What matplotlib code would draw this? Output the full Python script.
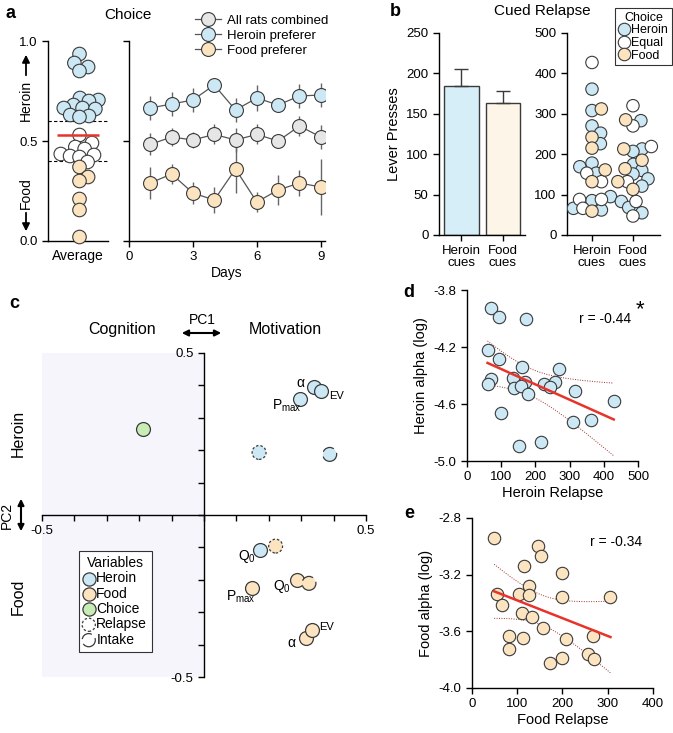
import numpy as np
import matplotlib
matplotlib.use("Agg")
import matplotlib.pyplot as plt
from matplotlib.lines import Line2D

plt.rcParams["font.family"] = ["Liberation Sans", "DejaVu Sans"]
plt.rcParams["font.size"] = 8.5
plt.rcParams["axes.linewidth"] = 1.0
plt.rcParams["xtick.major.width"] = 1.0
plt.rcParams["ytick.major.width"] = 1.0
plt.rcParams["xtick.major.size"] = 4
plt.rcParams["ytick.major.size"] = 4

# ---- data ----
# a: average choice per rat
choice_heroin = [0.935, 0.89, 0.87, 0.85, 0.715, 0.705, 0.70, 0.68, 0.665, 0.665,
                 0.66, 0.63, 0.625, 0.62]
choice_equal = [0.53, 0.49, 0.47, 0.46, 0.435, 0.43, 0.425, 0.42, 0.395]
choice_food = [0.37, 0.32, 0.30, 0.21, 0.155, 0.02]

days = [1, 2, 3, 4, 5, 6, 7, 8, 9]
all_mean = [0.483, 0.52, 0.505, 0.533, 0.505, 0.533, 0.50, 0.575, 0.52]
all_err = [0.055, 0.045, 0.04, 0.05, 0.06, 0.05, 0.03, 0.05, 0.06]
heroin_mean = [0.665, 0.685, 0.705, 0.78, 0.655, 0.715, 0.68, 0.725, 0.73]
heroin_err = [0.058, 0.058, 0.06, 0.035, 0.06, 0.065, 0.03, 0.06, 0.06]
food_mean = [0.29, 0.335, 0.24, 0.205, 0.36, 0.195, 0.255, 0.29, 0.27]
food_err = [0.08, 0.05, 0.055, 0.065, 0.12, 0.05, 0.075, 0.065, 0.14]

# b: cued relapse
cue_labels = ["Heroin\ncues", "Food\ncues"]
relapse_mean = [185, 163]
relapse_sem = [20, 15]
hc_heroin = [361, 308, 270, 252, 226, 178, 169, 153, 95, 85, 66, 62]
hc_equal = [427, 153, 132, 88, 88, 66]
hc_food = [312, 242, 215, 161, 132, 59]
fc_heroin = [283, 213, 207, 175, 160, 151, 139, 121, 83, 68, 55]
fc_equal = [320, 270, 219, 132, 83, 47]
fc_food = [285, 213, 185, 164, 132, 113]

# c: PCA loadings (PC1, PC2)
pc_heroin = {"alpha": (0.34, 0.396), "EV": (0.362, 0.384), "Pmax": (0.295, 0.358),
             "Q0": (0.172, -0.108)}
pc_heroin_relapse = (0.17, 0.193)
pc_heroin_intake = (0.388, 0.187)
pc_food = {"alpha": (0.314, -0.381), "EV": (0.332, -0.355), "Pmax": (0.148, -0.226),
           "Q0": (0.288, -0.20)}
pc_food_relapse = (0.221, -0.096)
pc_food_intake = (0.324, -0.211)
pc_choice = (-0.188, 0.265)

# d: heroin relapse vs heroin alpha
d_x = [69, 93, 172, 62, 93, 160, 270, 69, 60, 135, 170, 138, 158, 179, 226, 256,
       243, 315, 429, 98, 310, 364, 153, 216]
d_y = [-3.924, -3.987, -4.004, -4.221, -4.284, -4.338, -4.352, -4.427, -4.462,
       -4.42, -4.448, -4.49, -4.474, -4.53, -4.46, -4.448, -4.483, -4.509, -4.577,
       -4.666, -4.728, -4.712, -4.893, -4.869]
# e: food relapse vs food alpha
e_x = [49, 145, 153, 116, 200, 127, 56, 104, 126, 200, 306, 67, 110, 132, 156, 81,
       112, 208, 268, 81, 200, 172, 257, 269]
e_y = [-2.943, -2.998, -3.068, -3.137, -3.19, -3.28, -3.339, -3.339, -3.344, -3.36,
       -3.356, -3.414, -3.473, -3.501, -3.578, -3.633, -3.649, -3.656, -3.633,
       -3.727, -3.786, -3.826, -3.76, -3.795]

BLUE = "#cce8f5"
ORANGE = "#fbe4bf"
GRAY = "#e6e6e6"
GREEN = "#c8ecb5"
EDGE = "#3a3a3a"

W, H = 673, 733
fig = plt.figure(figsize=(W / 100, H / 100), dpi=100)


def add_ax(x0, y0, x1, y1):
    return fig.add_axes([x0 / W, 1 - y1 / H, (x1 - x0) / W, (y1 - y0) / H])


def fxy(x, y):
    return (x / W, 1 - y / H)


def clean(ax):
    ax.spines["top"].set_visible(False)
    ax.spines["right"].set_visible(False)


def swarm(vals, ypx, xpx, d):
    # simple greedy beeswarm, returns x offsets in data units
    order = np.argsort(vals)
    placed = []
    offs = np.zeros(len(vals))
    for i in order:
        y = vals[i] * ypx
        cands = [0.0]
        for px, py in placed:
            dy = abs(py - y)
            if dy < d:
                dx = np.sqrt(d * d - dy * dy)
                cands += [px + dx, px - dx]
        cands.sort(key=abs)
        for c in cands:
            if all((c - px) ** 2 + (y - py) ** 2 >= d * d - 1e-6 for px, py in placed):
                break
        placed.append((c, y))
        offs[i] = c / xpx
    return offs


# ---------------- panel a ----------------
ax = add_ax(48, 41, 108, 241)
clean(ax)
vals = np.array(choice_heroin + choice_equal + choice_food)
cols = [BLUE] * len(choice_heroin) + ["white"] * len(choice_equal) + [ORANGE] * len(choice_food)
xo = swarm(vals, 200, 30, 9.5)
ax.scatter(xo, vals, s=95, c=cols, edgecolors=EDGE, linewidths=0.8, zorder=3, clip_on=False)
ax.axhline(0.6, color="k", ls=(0, (3, 2)), lw=0.8, zorder=1)
ax.axhline(0.4, color="k", ls=(0, (3, 2)), lw=0.8, zorder=1)
ax.hlines(np.median(vals), -0.75, 0.65, color="#e8332a", lw=1.8, zorder=4)
ax.set_xlim(-1.05, 0.95)
ax.set_ylim(0, 1)
ax.set_yticks([0, 0.5, 1.0])
ax.set_yticklabels(["0.0", "0.5", "1.0"], fontsize=9.5)
ax.set_xticks([])
ax.set_xlabel("Average", fontsize=10, labelpad=6)

fig.text(*fxy(26, 100), "Heroin", rotation=90, ha="center", va="center", fontsize=10)
fig.text(*fxy(26, 193), "Food", rotation=90, ha="center", va="center", fontsize=10)
fig.add_artist(plt.Annotation("", xy=fxy(26, 52), xytext=fxy(26, 78), xycoords="figure fraction",
                              arrowprops=dict(arrowstyle="-|>", color="k", lw=1.3, mutation_scale=11)))
fig.add_artist(plt.Annotation("", xy=fxy(26, 234), xytext=fxy(26, 210), xycoords="figure fraction",
                              arrowprops=dict(arrowstyle="-|>", color="k", lw=1.3, mutation_scale=11)))

ax = add_ax(129, 41, 325, 241)
clean(ax)
for m, e, c in [(heroin_mean, heroin_err, BLUE), (all_mean, all_err, GRAY), (food_mean, food_err, ORANGE)]:
    ax.errorbar(days, m, yerr=e, fmt="none", ecolor="#666666", elinewidth=1.0, zorder=2)
    ax.plot(days, m, "-o", color="#555555", lw=0.9, ms=10, mfc=c, mec=EDGE, mew=0.8, zorder=3)
ax.set_xlim(0, 9.2)
ax.set_ylim(0, 1)
ax.set_yticks([0, 0.5, 1.0])
ax.set_yticklabels([])
ax.set_xticks([0, 3, 6, 9])
ax.tick_params(axis="x", labelsize=9.5)
ax.set_xlabel("Days", fontsize=10, labelpad=2)

handles = [Line2D([], [], color="#555555", lw=0.9, marker="o", ms=10, mfc=c, mec=EDGE, mew=0.8)
           for c in (GRAY, BLUE, ORANGE)]
fig.legend(handles, ["All rats combined", "Heroin preferer", "Food preferer"],
           loc="upper left", bbox_to_anchor=fxy(183, 3), frameon=False, fontsize=9.5,
           handlelength=2.0, labelspacing=0.2, handletextpad=0.4)

fig.text(*fxy(128, 15), "Choice", ha="center", va="center", fontsize=11)
fig.text(*fxy(10, 13), "a", ha="center", va="center", fontsize=13, fontweight="bold")

# ---------------- panel b ----------------
ax = add_ax(439, 33, 525, 235)
clean(ax)
ax.bar([0, 1], relapse_mean, width=0.84, color=["#d6eef8", "#fdf6e8"], edgecolor=EDGE, lw=1.0,
       yerr=[[0, 0], relapse_sem], capsize=5, error_kw=dict(elinewidth=1.0, capthick=1.0, ecolor=EDGE))
ax.set_xlim(-0.54, 1.53)
ax.set_ylim(0, 250)
ax.set_yticks(range(0, 251, 50))
ax.set_xticks([0, 1])
ax.set_xticklabels(cue_labels, fontsize=9.5, linespacing=0.9)
ax.tick_params(axis="y", labelsize=9.5)
ax.set_ylabel("Lever Presses", fontsize=10.5)

ax = add_ax(567, 33, 660, 235)
clean(ax)
for xc, groups in [(0, (hc_heroin, hc_equal, hc_food)), (1, (fc_heroin, fc_equal, fc_food))]:
    v = np.array(groups[0] + groups[1] + groups[2])
    cc = [BLUE] * len(groups[0]) + ["white"] * len(groups[1]) + [ORANGE] * len(groups[2])
    xo = swarm(v, 202 / 500, 41, 9.5)
    ax.scatter(xc + xo, v, s=80, c=cc, edgecolors=EDGE, linewidths=0.8, zorder=3)
ax.set_xlim(-0.61, 1.66)
ax.set_ylim(0, 500)
ax.set_yticks(range(0, 501, 100))
ax.set_xticks([0, 1])
ax.set_xticklabels(cue_labels, fontsize=9.5, linespacing=0.9)
ax.tick_params(axis="y", labelsize=9.5)
handles = [Line2D([], [], ls="", marker="o", ms=9, mfc=c, mec=EDGE, mew=0.8) for c in (BLUE, "white", ORANGE)]
leg = fig.legend(handles, ["Heroin", "Equal", "Food"], title="Choice", loc="upper right",
                 bbox_to_anchor=fxy(672, 8), fontsize=9, title_fontsize=9, frameon=True,
                 fancybox=False, edgecolor="k", handlelength=0.8, handletextpad=0.2,
                 labelspacing=0.05, borderpad=0.3, borderaxespad=0)
leg.get_frame().set_linewidth(0.8)

fig.text(*fxy(542, 11), "Cued Relapse", ha="center", va="center", fontsize=11)
fig.text(*fxy(395, 11), "b", ha="center", va="center", fontsize=13, fontweight="bold")

# ---------------- panel c ----------------
ax = add_ax(42, 353, 366, 677)
ax.set_xlim(-0.5, 0.5)
ax.set_ylim(-0.5, 0.5)
ax.axvspan(-0.5, 0, color="#f7f5fc", zorder=0, lw=0)
ax.spines["left"].set_position(("data", 0))
ax.spines["bottom"].set_position(("data", 0))
clean(ax)
ticks = np.round(np.arange(-0.5, 0.51, 0.1), 1)
ax.set_xticks(ticks)
ax.set_yticks(ticks)
ax.set_xticklabels(["-0.5" if t == -0.5 else "0.5" if t == 0.5 else "" for t in ticks], fontsize=9.5)
ax.set_yticklabels(["-0.5" if t == -0.5 else "0.5" if t == 0.5 else "" for t in ticks], fontsize=9.5)
ax.tick_params(length=4)

kw = dict(s=100, edgecolors=EDGE, linewidths=0.9, zorder=3)
relapse_ls = (0, (2, 1.6))
intake_ls = (0, (10, 4))
for pts, col in [(pc_heroin, BLUE), (pc_food, ORANGE)]:
    xs = [p[0] for p in pts.values()]
    ys = [p[1] for p in pts.values()]
    ax.scatter(xs, ys, c=col, **kw)
ax.scatter(*pc_heroin_relapse, c=BLUE, linestyles=[relapse_ls], **kw)
ax.scatter(*pc_food_relapse, c=ORANGE, linestyles=[relapse_ls], **kw)
ax.scatter(*pc_heroin_intake, c=BLUE, linestyles=[intake_ls], **kw)
ax.scatter(*pc_food_intake, c=ORANGE, linestyles=[intake_ls], **kw)
ax.scatter(*pc_choice, c=GREEN, **kw)

names = {"alpha": "α", "EV": "EV", "Pmax": r"P$_{\mathregular{max}}$", "Q0": r"Q$_{\mathregular{0}}$"}
heroin_off = {"alpha": (-10, 3), "EV": (11, -4), "Pmax": (-9, -5), "Q0": (-9, -5)}
food_off = {"alpha": (-10, -3), "EV": (11, 2), "Pmax": (-8, -6), "Q0": (-11, -5)}
for pts, offs in [(pc_heroin, heroin_off), (pc_food, food_off)]:
    for k, (x, y) in pts.items():
        ax.annotate(names[k], (x, y), xytext=offs[k], textcoords="offset points",
                    ha="center", va="center", fontsize=8 if k == "EV" else 10)

h = [ax.scatter([], [], s=90, c=BLUE, edgecolors=EDGE, linewidths=0.9),
     ax.scatter([], [], s=90, c=ORANGE, edgecolors=EDGE, linewidths=0.9),
     ax.scatter([], [], s=90, c=GREEN, edgecolors=EDGE, linewidths=0.9),
     ax.scatter([], [], s=90, c="white", edgecolors=EDGE, linewidths=0.9, linestyles=[relapse_ls]),
     ax.scatter([], [], s=90, c="white", edgecolors=EDGE, linewidths=0.9, linestyles=[intake_ls])]
leg = ax.legend(h, ["Heroin", "Food", "Choice", "Relapse", "Intake"], title="Variables",
                loc="upper left", bbox_to_anchor=((79 - 42) / 324, 1 - (551 - 353) / 324),
                fontsize=10, title_fontsize=10, fancybox=False, edgecolor="#333333", framealpha=1,
                handlelength=0.7, handletextpad=0.2, labelspacing=0.1, borderpad=0.35,
                borderaxespad=0)
leg.get_frame().set_linewidth(0.8)

fig.text(*fxy(122, 329), "Cognition", ha="center", va="center", fontsize=11.5)
fig.text(*fxy(285, 329), "Motivation", ha="center", va="center", fontsize=11.5)
fig.text(*fxy(202, 320), "PC1", ha="center", va="center", fontsize=10)
fig.add_artist(plt.Annotation("", xy=fxy(224, 333), xytext=fxy(179, 333), xycoords="figure fraction",
                              arrowprops=dict(arrowstyle="<|-|>", color="k", lw=1.5, mutation_scale=9)))
fig.text(*fxy(7, 515), "PC2", rotation=90, ha="center", va="center", fontsize=10)
fig.add_artist(plt.Annotation("", xy=fxy(21, 496), xytext=fxy(21, 534), xycoords="figure fraction",
                              arrowprops=dict(arrowstyle="<|-|>", color="k", lw=1.5, mutation_scale=9)))
fig.text(*fxy(18, 433), "Heroin", rotation=90, ha="center", va="center", fontsize=11.5)
fig.text(*fxy(18, 597), "Food", rotation=90, ha="center", va="center", fontsize=11.5)
fig.text(*fxy(14, 303), "c", ha="center", va="center", fontsize=13, fontweight="bold")


# ---------------- panels d, e ----------------
def reg_panel(ax, x, y, col):
    x = np.array(x, float)
    y = np.array(y, float)
    ax.scatter(x, y, s=80, c=col, edgecolors=EDGE, linewidths=0.8, zorder=3, clip_on=False)
    b, a = np.polyfit(x, y, 1)
    xs = np.linspace(x.min(), x.max(), 100)
    n = len(x)
    res = y - (a + b * x)
    s = np.sqrt(np.sum(res ** 2) / (n - 2))
    se = s * np.sqrt(1 / n + (xs - x.mean()) ** 2 / np.sum((x - x.mean()) ** 2))
    fit = a + b * xs
    ax.plot(xs, fit, color="#e8332a", lw=1.8, zorder=4)
    ax.plot(xs, fit + 2.07 * se, color="#a0302a", lw=0.7, ls=(0, (1, 1.5)), zorder=2)
    ax.plot(xs, fit - 2.07 * se, color="#a0302a", lw=0.7, ls=(0, (1, 1.5)), zorder=2)
    clean(ax)
    ax.tick_params(labelsize=9.5)


ax = add_ax(467, 290, 638, 461)
reg_panel(ax, d_x, d_y, BLUE)
ax.set_xlim(0, 500)
ax.set_ylim(-5.0, -3.8)
ax.set_yticks([-3.8, -4.2, -4.6, -5.0])
ax.set_yticklabels(["-3.8", "-4.2", "-4.6", "-5.0"])
ax.set_xticks(range(0, 501, 100))
ax.set_xlabel("Heroin Relapse", fontsize=10.5, labelpad=2)
ax.set_ylabel("Heroin alpha (log)", fontsize=10.5)
ax.text(405, -4.0, "r = -0.44", ha="center", va="center", fontsize=10)
ax.text(505, -3.94, "*", ha="center", va="center", fontsize=16)
fig.text(*fxy(409, 292), "d", ha="center", va="center", fontsize=13, fontweight="bold")

ax = add_ax(472, 518, 653, 688)
reg_panel(ax, e_x, e_y, ORANGE)
ax.set_xlim(0, 400)
ax.set_ylim(-4.0, -2.8)
ax.set_yticks([-2.8, -3.2, -3.6, -4.0])
ax.set_yticklabels(["-2.8", "-3.2", "-3.6", "-4.0"])
ax.set_xticks(range(0, 401, 100))
ax.set_xlabel("Food Relapse", fontsize=10.5, labelpad=2)
ax.set_ylabel("Food alpha (log)", fontsize=10.5)
ax.text(318, -2.97, "r = -0.34", ha="center", va="center", fontsize=10)
fig.text(*fxy(409, 513), "e", ha="center", va="center", fontsize=13, fontweight="bold")

fig.savefig("out.png", dpi=100)
